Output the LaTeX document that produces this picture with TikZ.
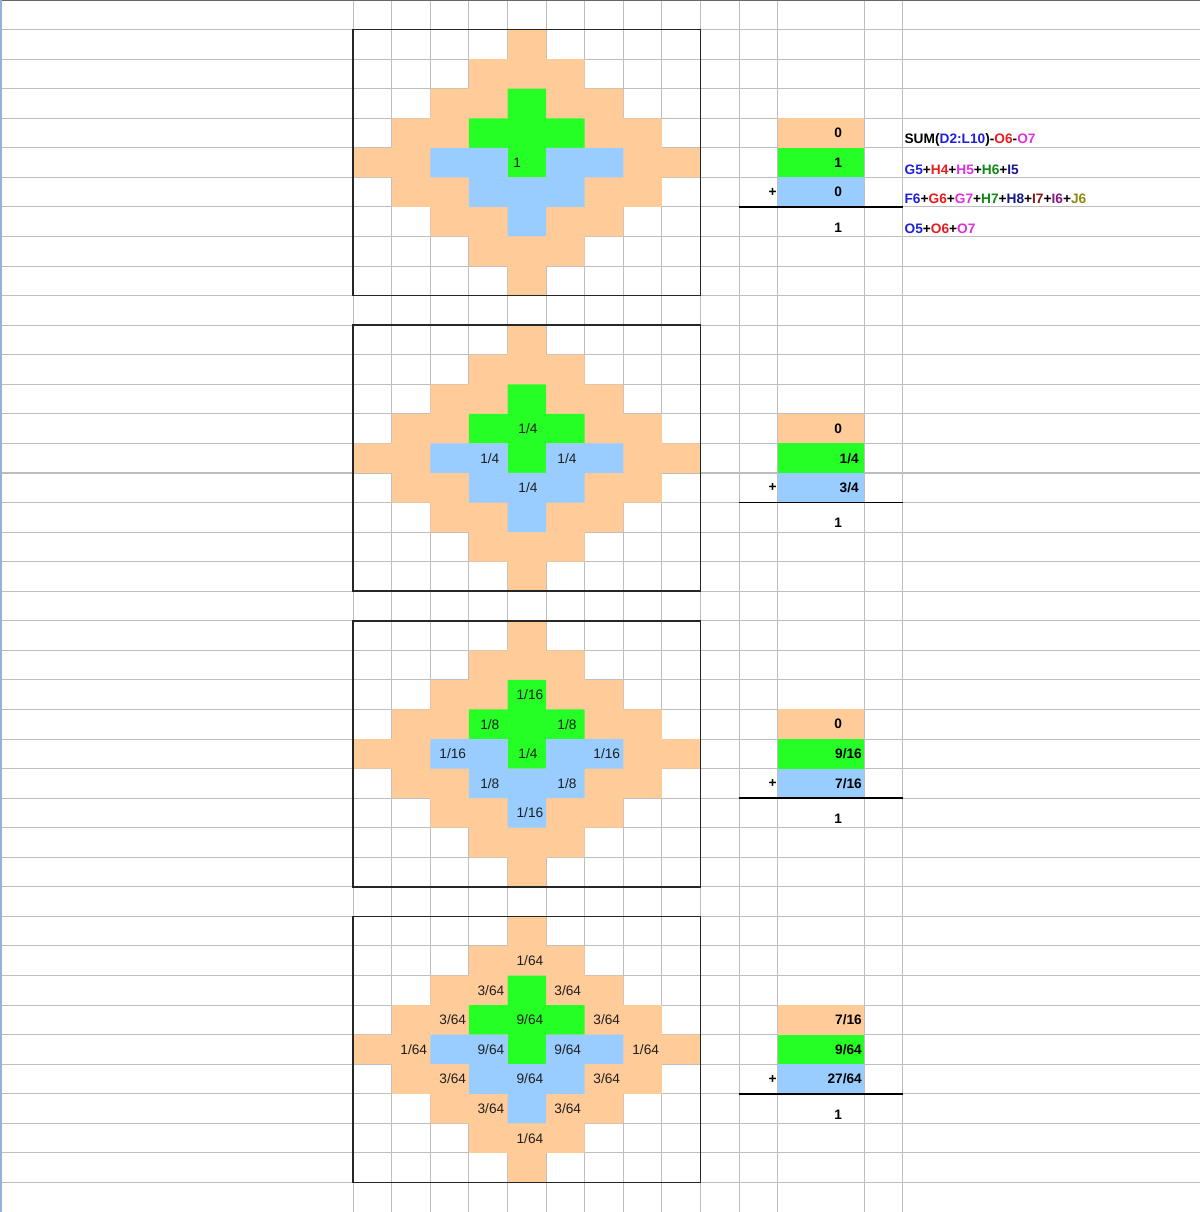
\documentclass[tikz,border=0pt]{standalone}
\usepackage{fontspec}
\setmainfont{Liberation Sans}

\definecolor{cellorange}{HTML}{FFCC99}
\definecolor{cellgreen}{HTML}{26FF26}
\definecolor{cellblue}{HTML}{99CCFF}
\definecolor{edgeblue}{HTML}{8FB4D9}
\definecolor{refblue}{HTML}{2020D8}
\definecolor{refred}{HTML}{E81C1C}
\definecolor{refmagenta}{HTML}{E030E0}
\definecolor{refgreen}{HTML}{108A10}
\definecolor{refnavy}{HTML}{151585}
\definecolor{refmaroon}{HTML}{8A1515}
\definecolor{refpurple}{HTML}{8A158A}
\definecolor{refolive}{HTML}{8A8A15}

\tikzset{
  gridline/.style={black!26, line width=0.6pt},
  boxline/.style={black!85, line width=0.9pt},
  sumline/.style={black, line width=0.9pt},
  lbl/.style={inner sep=0pt, text=black!88, font=\fontsize{7.8}{9}\selectfont},
  val/.style={inner sep=0pt, anchor=east, font=\fontsize{7.8}{9}\selectfont\bfseries},
  fml/.style={inner sep=0pt, anchor=west, font=\fontsize{7.8}{9}\selectfont\bfseries},
}

\begin{document}
\begin{tikzpicture}[x={(0.772cm,0)}, y={(0,-0.5914cm)}]

    \useasboundingbox (-9.153,0) rectangle (21.935,41);

    % sheet grid
    \foreach \r in {1,...,40}
        \draw[gridline] (-9.153,\r) -- (21.935,\r);
    \foreach \c in {0,...,11}
        \draw[gridline] (\c,0) -- (\c,41);
    \draw[gridline] (13.246,0) -- (13.246,41);
    \draw[gridline] (14.246,0) -- (14.246,41);
    \draw[black!60, line width=1.2pt] (-9.153,0) -- (21.935,0);
    \draw[edgeblue, line width=1.1pt] (-9.12,0) -- (-9.12,41);

    % the four diamonds and their sums
    \foreach \k in {0,...,3} {
    \begin{scope}[shift={(0,1+10*\k)}]
        \fill[cellorange] (4,0) -| (5,1) -| (6,2) -| (7,3) -| (8,4) -| (9,5)
            -| (8,6) -| (7,7) -| (6,8) -| (5,9) -| (4,8) -| (3,7) -| (2,6)
            -| (1,5) -| (0,4) -| (1,3) -| (2,2) -| (3,1) -| (4,0) -- cycle;
        \fill[cellgreen] (4,2) -| (5,3) -| (6,4) -| (5,5) -| (4,4) -| (3,3) -| (4,2) -- cycle;
        \fill[cellblue] (2,4) -- (4,4) -- (4,5) -- (5,5) -- (5,4) -- (7,4) -- (7,5)
            -- (6,5) -- (6,6) -- (5,6) -- (5,7) -- (4,7) -- (4,6) -- (3,6) -- (3,5)
            -- (2,5) -- cycle;
        \draw[boxline] (0,0) rectangle (9,9);

        \fill[cellorange] (11,3) rectangle (13.246,4);
        \fill[cellgreen] (11,4) rectangle (13.246,5);
        \fill[cellblue] (11,5) rectangle (13.246,6);
        \draw[sumline] (10,6) -- (14.246,6);
        \node[val] (plus\k) at (10.98,5.5) {+};
    \end{scope}
    }

    % box 1
    \node[lbl] (b1a) at (4.25,5.5) {1};

    % box 2
    \node[lbl] (b2a) at (4.53,14.5) {1/4};
    \node[lbl] (b2b) at (3.54,15.5) {1/4};
    \node[lbl] (b2c) at (5.54,15.5) {1/4};
    \node[lbl] (b2d) at (4.53,16.5) {1/4};

    % box 3
    \node[lbl] (b3a) at (4.58,23.5) {1/16};
    \node[lbl] (b3b) at (3.54,24.5) {1/8};
    \node[lbl] (b3c) at (5.54,24.5) {1/8};
    \node[lbl] (b3d) at (2.58,25.5) {1/16};
    \node[lbl] (b3e) at (4.53,25.5) {1/4};
    \node[lbl] (b3f) at (6.57,25.5) {1/16};
    \node[lbl] (b3g) at (3.54,26.5) {1/8};
    \node[lbl] (b3h) at (5.54,26.5) {1/8};
    \node[lbl] (b3i) at (4.58,27.5) {1/16};

    % box 4
    \node[lbl] (b4a) at (4.58,32.5) {1/64};
    \node[lbl] (b4b) at (3.57,33.5) {3/64};
    \node[lbl] (b4c) at (5.56,33.5) {3/64};
    \node[lbl] (b4d) at (2.58,34.5) {3/64};
    \node[lbl] (b4e) at (4.58,34.5) {9/64};
    \node[lbl] (b4f) at (6.57,34.5) {3/64};
    \node[lbl] (b4g) at (1.57,35.5) {1/64};
    \node[lbl] (b4h) at (3.57,35.5) {9/64};
    \node[lbl] (b4i) at (5.56,35.5) {9/64};
    \node[lbl] (b4j) at (7.58,35.5) {1/64};
    \node[lbl] (b4k) at (2.58,36.5) {3/64};
    \node[lbl] (b4l) at (4.58,36.5) {9/64};
    \node[lbl] (b4m) at (6.57,36.5) {3/64};
    \node[lbl] (b4n) at (3.57,37.5) {3/64};
    \node[lbl] (b4o) at (5.56,37.5) {3/64};
    \node[lbl] (b4p) at (4.58,38.5) {1/64};

    % sums
    \node[val] (v1a) at (12.674,4.5) {0};
    \node[val] (v1b) at (12.674,5.5) {1};
    \node[val] (v1c) at (12.674,6.5) {0};
    \node[val] (v1t) at (12.674,7.7) {1};

    \node[val] (v2a) at (12.674,14.5) {0};
    \node[val] (v2b) at (13.109,15.5) {1/4};
    \node[val] (v2c) at (13.109,16.5) {3/4};
    \node[val] (v2t) at (12.674,17.7) {1};

    \node[val] (v3a) at (12.674,24.5) {0};
    \node[val] (v3b) at (13.19,25.5) {9/16};
    \node[val] (v3c) at (13.19,26.5) {7/16};
    \node[val] (v3t) at (12.674,27.7) {1};

    \node[val] (v4a) at (13.19,34.5) {7/16};
    \node[val] (v4b) at (13.19,35.5) {9/64};
    \node[val] (v4c) at (13.19,36.5) {27/64};
    \node[val] (v4t) at (12.674,37.7) {1};

    % formulas
    \node[fml] (f1) at (14.28,4.74) {SUM(\textcolor{refblue}{D2:L10})-\textcolor{refred}{O6}-\textcolor{refmagenta}{O7}};
    \node[fml] (f2) at (14.28,5.74) {\textcolor{refblue}{G5}+\textcolor{refred}{H4}+\textcolor{refmagenta}{H5}+\textcolor{refgreen}{H6}+\textcolor{refnavy}{I5}};
    \node[fml] (f3) at (14.28,6.74) {\textcolor{refblue}{F6}+\textcolor{refred}{G6}+\textcolor{refmagenta}{G7}+\textcolor{refgreen}{H7}+\textcolor{refnavy}{H8}+\textcolor{refmaroon}{I7}+\textcolor{refpurple}{I6}+\textcolor{refolive}{J6}};
    \node[fml] (f4) at (14.28,7.74) {\textcolor{refblue}{O5}+\textcolor{refred}{O6}+\textcolor{refmagenta}{O7}};

\end{tikzpicture}
\end{document}
